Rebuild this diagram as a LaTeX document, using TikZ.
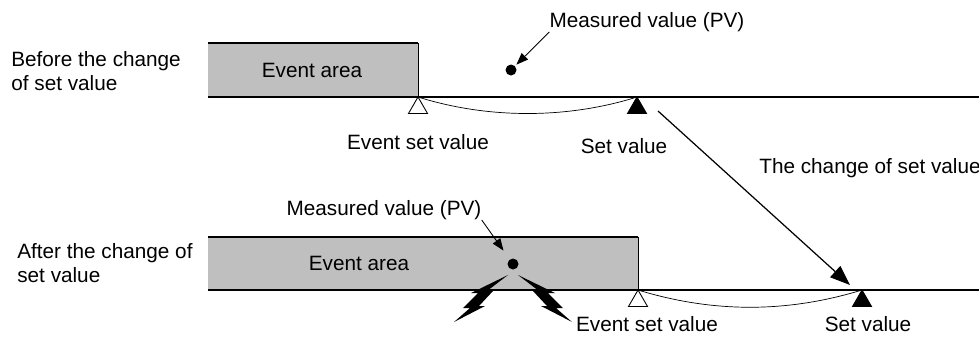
\documentclass[tikz,border=0pt]{standalone}
\usepackage{fontspec}
\setmainfont{Liberation Sans}
\usetikzlibrary{shapes.geometric,arrows.meta}

\tikzset{bolt/.pic={
    \fill (5,11) -- (42,29) -- (35,29) -- (50,44) -- (43,44) -- (59,58)
      -- (28,42) -- (34,42) -- (20,27) -- (26,27) -- cycle;
}}

\begin{document}
\begin{tikzpicture}[x=0.02cm,y=-0.02cm,
    lbl/.style={inner sep=0pt, font=\fontsize{11.8}{13.4}\selectfont},
    areafill/.style={fill=black!25},
    rule/.style={line width=0.8pt},
    pvdot/.style={circle, fill=black, inner sep=0pt, minimum size=0.22cm},
    tri/.style={regular polygon, regular polygon sides=3, minimum size=0.44cm,
      inner sep=0pt, outer sep=0pt, anchor=corner 1, draw, line width=0.5pt},
    ptr/.style={-{Triangle[length=0.24cm,width=0.18cm]}, line width=0.5pt},
    bigptr/.style={-{Triangle[length=0.4cm,width=0.3cm]}, line width=0.7pt}]
    \useasboundingbox (0,0) rectangle (979,336);

    % Before the change
    \coordinate (a1nw) at (208,43);
    \coordinate (a1ne) at (418,43);
    \coordinate (base1w) at (208,97);
    \coordinate (base1e) at (979,97);
    \fill[areafill] (a1nw) rectangle (418,97);

    % Nodes
    \node[lbl, anchor=west, align=left] (before) at (11,71) {Before the change\\of set value};
    \node[lbl] (area1) at (312,70) {Event area};
    \node[pvdot] (pv1) at (511,70) {};
    \node[lbl] (mv1) at (647,22) {Measured value (PV)};
    \node[tri, fill=white] (evt1) at (418,97) {};
    \node[tri, fill=black] (sv1) at (637,97) {};
    \node[lbl] (evtlbl1) at (418,142) {Event set value};
    \node[lbl] (svlbl1) at (624,146) {Set value};

    % Edges
    \draw[rule] (a1nw) -- (a1ne);
    \draw[-] (a1ne) -- (evt1.corner 1);
    \draw[rule] (base1w) -- (base1e);
    \draw[-] (evt1.corner 1) .. controls +(70,22) and +(-70,22) .. (sv1.corner 1);
    \draw[ptr, shorten >=1pt] (mv1.south west) -- (pv1);

    % The change of set value
    \coordinate (chgfrom) at (658,111);
    \coordinate (chgto) at (850,285);
    \node[lbl, anchor=west] (chglbl) at (759,168) {The change of set value};
    \draw[bigptr] (chgfrom) -- (chgto);

    % After the change
    \coordinate (a2nw) at (208,237);
    \coordinate (a2ne) at (638,237);
    \coordinate (base2w) at (208,290);
    \coordinate (base2e) at (979,290);
    \fill[areafill] (a2nw) rectangle (638,290);

    % Nodes
    \node[lbl, anchor=west, align=left] (after) at (17,263) {After the change of\\set value};
    \node[lbl] (area2) at (359,263) {Event area};
    \node[pvdot] (pv2) at (513,264) {};
    \node[lbl] (mv2) at (384,210) {Measured value (PV)};
    \node[tri, fill=white] (evt2) at (638,290) {};
    \node[tri, fill=black] (sv2) at (862,290) {};
    \node[lbl] (evtlbl2) at (647,324) {Event set value};
    \node[lbl] (svlbl2) at (868,324) {Set value};

    % Edges
    \draw[rule] (a2nw) -- (a2ne);
    \draw[-] (a2ne) -- (evt2.corner 1);
    \draw[rule] (base2w) -- (base2e);
    \draw[-] (evt2.corner 1) .. controls +(75,23) and +(-75,23) .. (sv2.corner 1);
    \draw[ptr, shorten >=6pt] (mv2.south east) -- (pv2);

    % bolts
    \pic at (pv2) {bolt};
    \pic[xscale=-1] at (pv2) {bolt};
\end{tikzpicture}
\end{document}
